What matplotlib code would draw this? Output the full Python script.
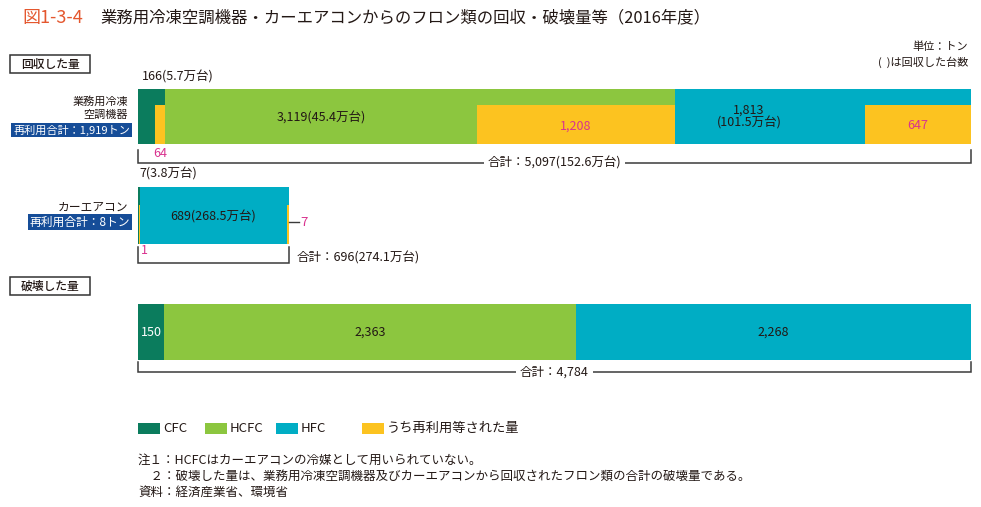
import numpy as np
import matplotlib
matplotlib.use('Agg')
import matplotlib.pyplot as plt
from matplotlib.patches import Rectangle

plt.rcParams['font.family'] = ['Noto Sans CJK JP', 'DejaVu Sans']

# Data (tons)
gases = ['CFC', 'HCFC', 'HFC']
commercial_recovered = [166, 3119, 1813]
commercial_reused = [64, 1208, 647]
commercial_units = ['5.7', '45.4', '101.5']
car_recovered = [7, 0, 689]
car_reused = [1, 0, 7]
car_units = ['3.8', '', '268.5']
destroyed = [150, 2363, 2268]
commercial_total = '5,097(152.6万台)'
car_total = '696(274.1万台)'
destroyed_total = '4,784'
commercial_reuse_total = '1,919'
car_reuse_total = '8'

colors = ['#0b7c5d', '#8cc63f', '#00adc4']
reuse_color = '#fcc320'
magenta = '#d9338f'
textc = '#231815'
linec = '#3a3a3a'
fs = 9

W, H = 981, 507
fig = plt.figure(figsize=(W / 100, H / 100), dpi=100)


def fx(px):
    return px / W


def fy(py):
    return 1 - py / H


def make_ax(x0, x1, y0, y1, total):
    ax = fig.add_axes([fx(x0), fy(y1), (x1 - x0) / W, (y1 - y0) / H])
    ax.set_xlim(0, total)
    ax.set_ylim(0, 1)
    ax.axis('off')
    return ax


def stacked(ax, values, reused=None, reuse_h=0.71):
    left = np.concatenate([[0], np.cumsum(values)[:-1]])
    ax.barh(0, values, height=1, left=left, color=colors, align='edge')
    if reused is not None:
        rl = left + np.array(values) - np.array(reused)
        ax.barh(0, reused, height=reuse_h, left=rl, color=reuse_color, align='edge')
    return left


def bracket(ax, total, y0, y1):
    ax.plot([0, 0, total, total], [y0, y1, y1, y0], color=linec, lw=1.1,
            clip_on=False, solid_joinstyle='miter')


# Title
fig.text(fx(22), fy(18), '図1-3-4', color='#e4572e', fontsize=13, va='center')
fig.text(fx(100), fy(18), '業務用冷凍空調機器・カーエアコンからのフロン類の回収・破壊量等（2016年度）',
         color=textc, fontsize=11.8, va='center')

# Section boxes
for label, y in [('回収した量', 55), ('破壊した量', 277)]:
    fig.add_artist(Rectangle((fx(10), fy(y + 18)), 80 / W, 18 / H, transform=fig.transFigure,
                             facecolor='white', edgecolor='#333333', lw=1.1))
    fig.text(fx(50), fy(y + 9), label, ha='center', va='center', fontsize=8.5, color=textc,
             fontweight='medium')

fig.text(fx(968), fy(47), '単位：トン', ha='right', va='center', fontsize=8, color=textc)
fig.text(fx(968), fy(62), '(  )は回収した台数', ha='right', va='center', fontsize=8, color=textc)

# Bar 1: commercial refrigeration / air conditioning
tot1 = sum(commercial_recovered)
ax1 = make_ax(138, 971, 89, 144, tot1)
left1 = stacked(ax1, commercial_recovered, commercial_reused)
bracket(ax1, tot1, -0.11, -0.345)
ax1.text(tot1 / 2, -0.345, '合計：' + commercial_total, ha='center', va='center', fontsize=fs,
         color=textc, bbox=dict(facecolor='white', edgecolor='none', pad=3))
ax1.text(25, 1.22, f'{commercial_recovered[0]}({commercial_units[0]}万台)', ha='left', va='center',
         fontsize=fs, color=textc)
ax1.text(left1[0] + commercial_recovered[0] - commercial_reused[0] / 2, -0.17, str(commercial_reused[0]),
         ha='center', va='center', fontsize=fs, color=magenta)
hc_end = left1[1] + commercial_recovered[1] - commercial_reused[1]
ax1.text((left1[1] + hc_end) / 2, 0.48, f'{commercial_recovered[1]:,}({commercial_units[1]}万台)',
         ha='center', va='center', fontsize=fs, color=textc)
ax1.text(hc_end + commercial_reused[1] / 2, 0.33, f'{commercial_reused[1]:,}',
         ha='center', va='center', fontsize=fs, color=magenta)
hf_end = left1[2] + commercial_recovered[2] - commercial_reused[2]
ax1.text(left1[2] + commercial_recovered[2] * 0.25, 0.5,
         f'{commercial_recovered[2]:,}\n({commercial_units[2]}万台)',
         ha='center', va='center', fontsize=fs, color=textc, linespacing=1.05)
ax1.text(hf_end + commercial_reused[2] / 2, 0.33, f'{commercial_reused[2]:,}',
         ha='center', va='center', fontsize=fs, color=magenta)

fig.text(fx(128), fy(101), '業務用冷凍', ha='right', va='center', fontsize=8, color=textc)
fig.text(fx(128), fy(115), '空調機器', ha='right', va='center', fontsize=8, color=textc)
fig.text(fx(130), fy(130), f'再利用合計：{commercial_reuse_total}トン', ha='right', va='center',
         fontsize=8, color='white',
         bbox=dict(facecolor='#164d98', edgecolor='none', boxstyle='square,pad=0.15'))

# Bar 2: car air conditioners
tot2 = sum(car_recovered)
ax2 = make_ax(138, 289, 187, 244, tot2)
left2 = stacked(ax2, car_recovered, car_reused, reuse_h=0.68)
bracket(ax2, tot2, -0.05, -0.33)
ax2.text(tot2 + 35, -0.24, '合計：' + car_total, ha='left', va='center', fontsize=fs, color=textc)
ax2.text(5, 1.22, f'{car_recovered[0]}({car_units[0]}万台)', ha='left', va='center',
         fontsize=fs, color=textc)
ax2.text(tot2 / 2, 0.48, f'{car_recovered[2]}({car_units[2]}万台)', ha='center', va='center',
         fontsize=fs, color=textc)
ax2.text(12, -0.12, str(car_reused[0]), ha='left', va='center', fontsize=fs, color=magenta)
ax2.plot([tot2, tot2 + 48], [0.38, 0.38], color=linec, lw=1, clip_on=False)
ax2.text(tot2 + 50, 0.38, str(car_reused[2]), ha='left', va='center', fontsize=9.5, color=magenta)

fig.text(fx(128), fy(207), 'カーエアコン', ha='right', va='center', fontsize=8.5, color=textc)
fig.text(fx(130), fy(222), f'再利用合計：{car_reuse_total}トン', ha='right', va='center',
         fontsize=8.5, color='white',
         bbox=dict(facecolor='#164d98', edgecolor='none', boxstyle='square,pad=0.15'))

# Bar 3: destroyed
tot3 = sum(destroyed)
ax3 = make_ax(138, 971, 304, 360, tot3)
left3 = stacked(ax3, destroyed)
bracket(ax3, tot3, -0.03, -0.21)
ax3.text(tot3 / 2, -0.21, '合計：' + destroyed_total, ha='center', va='center', fontsize=fs,
         color=textc, bbox=dict(facecolor='white', edgecolor='none', pad=3))
for i, v in enumerate(destroyed):
    ax3.text(left3[i] + v / 2, 0.5, f'{v:,}', ha='center', va='center', fontsize=fs,
             color='white' if i == 0 else textc)

# Legend
legend_items = gases + ['うち再利用等された量']
legend_colors = colors + [reuse_color]
legend_x = [138, 205, 276, 362]
for lx, lab, c in zip(legend_x, legend_items, legend_colors):
    fig.add_artist(Rectangle((fx(lx), fy(434)), 22 / W, 11 / H, transform=fig.transFigure,
                             facecolor=c, edgecolor='none'))
    fig.text(fx(lx + 25), fy(428), lab, ha='left', va='center', fontsize=9.5, color=textc)

# Notes
notes = ['注１：HCFCはカーエアコンの冷媒として用いられていない。',
         '　２：破壊した量は、業務用冷凍空調機器及びカーエアコンから回収されたフロン類の合計の破壊量である。',
         '資料：経済産業省、環境省']
for i, n in enumerate(notes):
    fig.text(fx(138), fy(460 + 16 * i), n, ha='left', va='center', fontsize=9, color=textc)

fig.savefig('out.png', dpi=100, facecolor='white')
